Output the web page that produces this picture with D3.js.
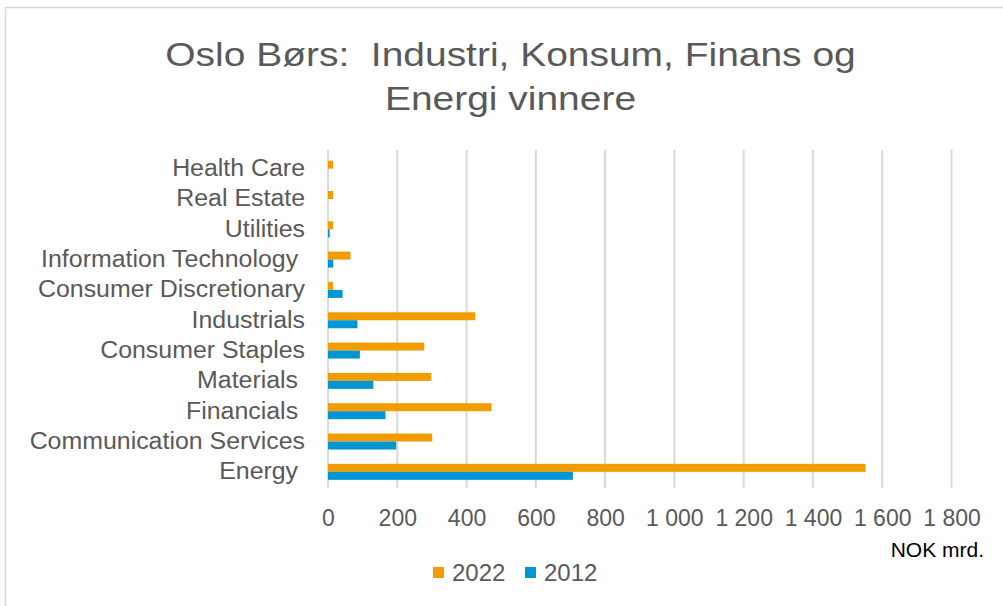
<!DOCTYPE html>
<html><head><meta charset="utf-8">
<script src="https://cdn.jsdelivr.net/npm/d3@7"></script>
<style>
body{margin:0;background:#fff;}
svg{font-family:"Liberation Sans",Arial,sans-serif;}
text{white-space:pre;}
</style></head>
<body><svg id="c" width="1003" height="606"></svg>
<script>
const categories = ["Health Care","Real Estate","Utilities","Information Technology ","Consumer Discretionary","Industrials","Consumer Staples","Materials ","Financials ","Communication Services","Energy "];
const values2022 = [15,15,15,65,15,425,278,298,472,301,1552];
const values2012 = [0,0,5,15,42,85,92,131,166,197,707];
const seriesNames = ["2022","2012"];
const xTicks = [0,200,400,600,800,1000,1200,1400,1600,1800];
const titleLines = ["Oslo Børs:  Industri, Konsum, Finans og","Energi vinnere"];
const unitLabel = "NOK mrd.";

const colors = {"2022":"#F39C00","2012":"#0096D4"};
const svg = d3.select("#c");
svg.append("rect").attr("x",5.5).attr("y",7.5).attr("width",1100).attr("height",700)
  .attr("fill","#fff").attr("stroke","#D9D9D9").attr("stroke-width",1.5);

const x = d3.scaleLinear().domain([0,1800]).range([328,951.5]);
const y = d3.scaleBand().domain(categories).range([153.5,487]).paddingInner(0).paddingOuter(0);
const inner = d3.scaleBand().domain(seriesNames).range([0,16]);

const fmt = d3.formatLocale({decimal:",",thousands:"\u00a0",grouping:[3],currency:["",""]}).format(",d");

// gridlines
svg.append("g").selectAll("line").data(xTicks).join("line")
  .attr("x1",d=>x(d)).attr("x2",d=>x(d)).attr("y1",150).attr("y2",488)
  .attr("stroke","#D9D9D9").attr("stroke-width",2);

// bars
const rows = categories.map((c,i)=>({c, v:{"2022":values2022[i],"2012":values2012[i]}}));
const g = svg.append("g");
rows.forEach(r=>{
  seriesNames.forEach(s=>{
    g.append("rect")
      .attr("x",x(0)).attr("y",y(r.c)+y.bandwidth()/2-8+inner(s))
      .attr("width",Math.max(0,x(r.v[s])-x(0))).attr("height",inner.bandwidth())
      .attr("fill",colors[s]);
  });
});

// x axis labels
const xa = svg.append("g").attr("transform","translate(0,500)")
  .call(d3.axisBottom(x).tickValues(xTicks).tickFormat(fmt).tickSize(0).tickPadding(10));
xa.select(".domain").remove();
xa.selectAll("text").attr("font-size",23).attr("fill","#595959").attr("font-family","Liberation Sans, Arial, sans-serif");

// y axis labels
const ya = svg.append("g").attr("transform","translate(305,0)")
  .call(d3.axisLeft(y).tickSize(0).tickPadding(0));
ya.select(".domain").remove();
ya.selectAll("text").attr("font-size",23.5).attr("fill","#595959")
  .attr("font-family","Liberation Sans, Arial, sans-serif").attr("transform","scale(1.06,1)");

// title
svg.append("g").selectAll("g").data(titleLines).join("g")
  .attr("transform",(d,i)=>`translate(510.5,${66+i*44}) scale(1.146,1)`)
  .append("text").attr("x",0).attr("y",0).attr("text-anchor","middle")
  .attr("font-size",34).attr("fill","#595959").text(d=>d);

svg.append("text").attr("x",984).attr("y",557).attr("text-anchor","end")
  .attr("font-size",21).attr("fill","#000").text(unitLabel);

// legend
const leg = svg.append("g").attr("transform","translate(433,567)");
seriesNames.forEach((s,i)=>{
  const lg = leg.append("g").attr("transform",`translate(${i*92},0)`);
  lg.append("rect").attr("x",0).attr("y",0).attr("width",11).attr("height",11).attr("fill",colors[s]);
  lg.append("text").attr("x",19).attr("y",14).attr("font-size",24).attr("fill","#595959").text(s);
});
</script></body></html>
